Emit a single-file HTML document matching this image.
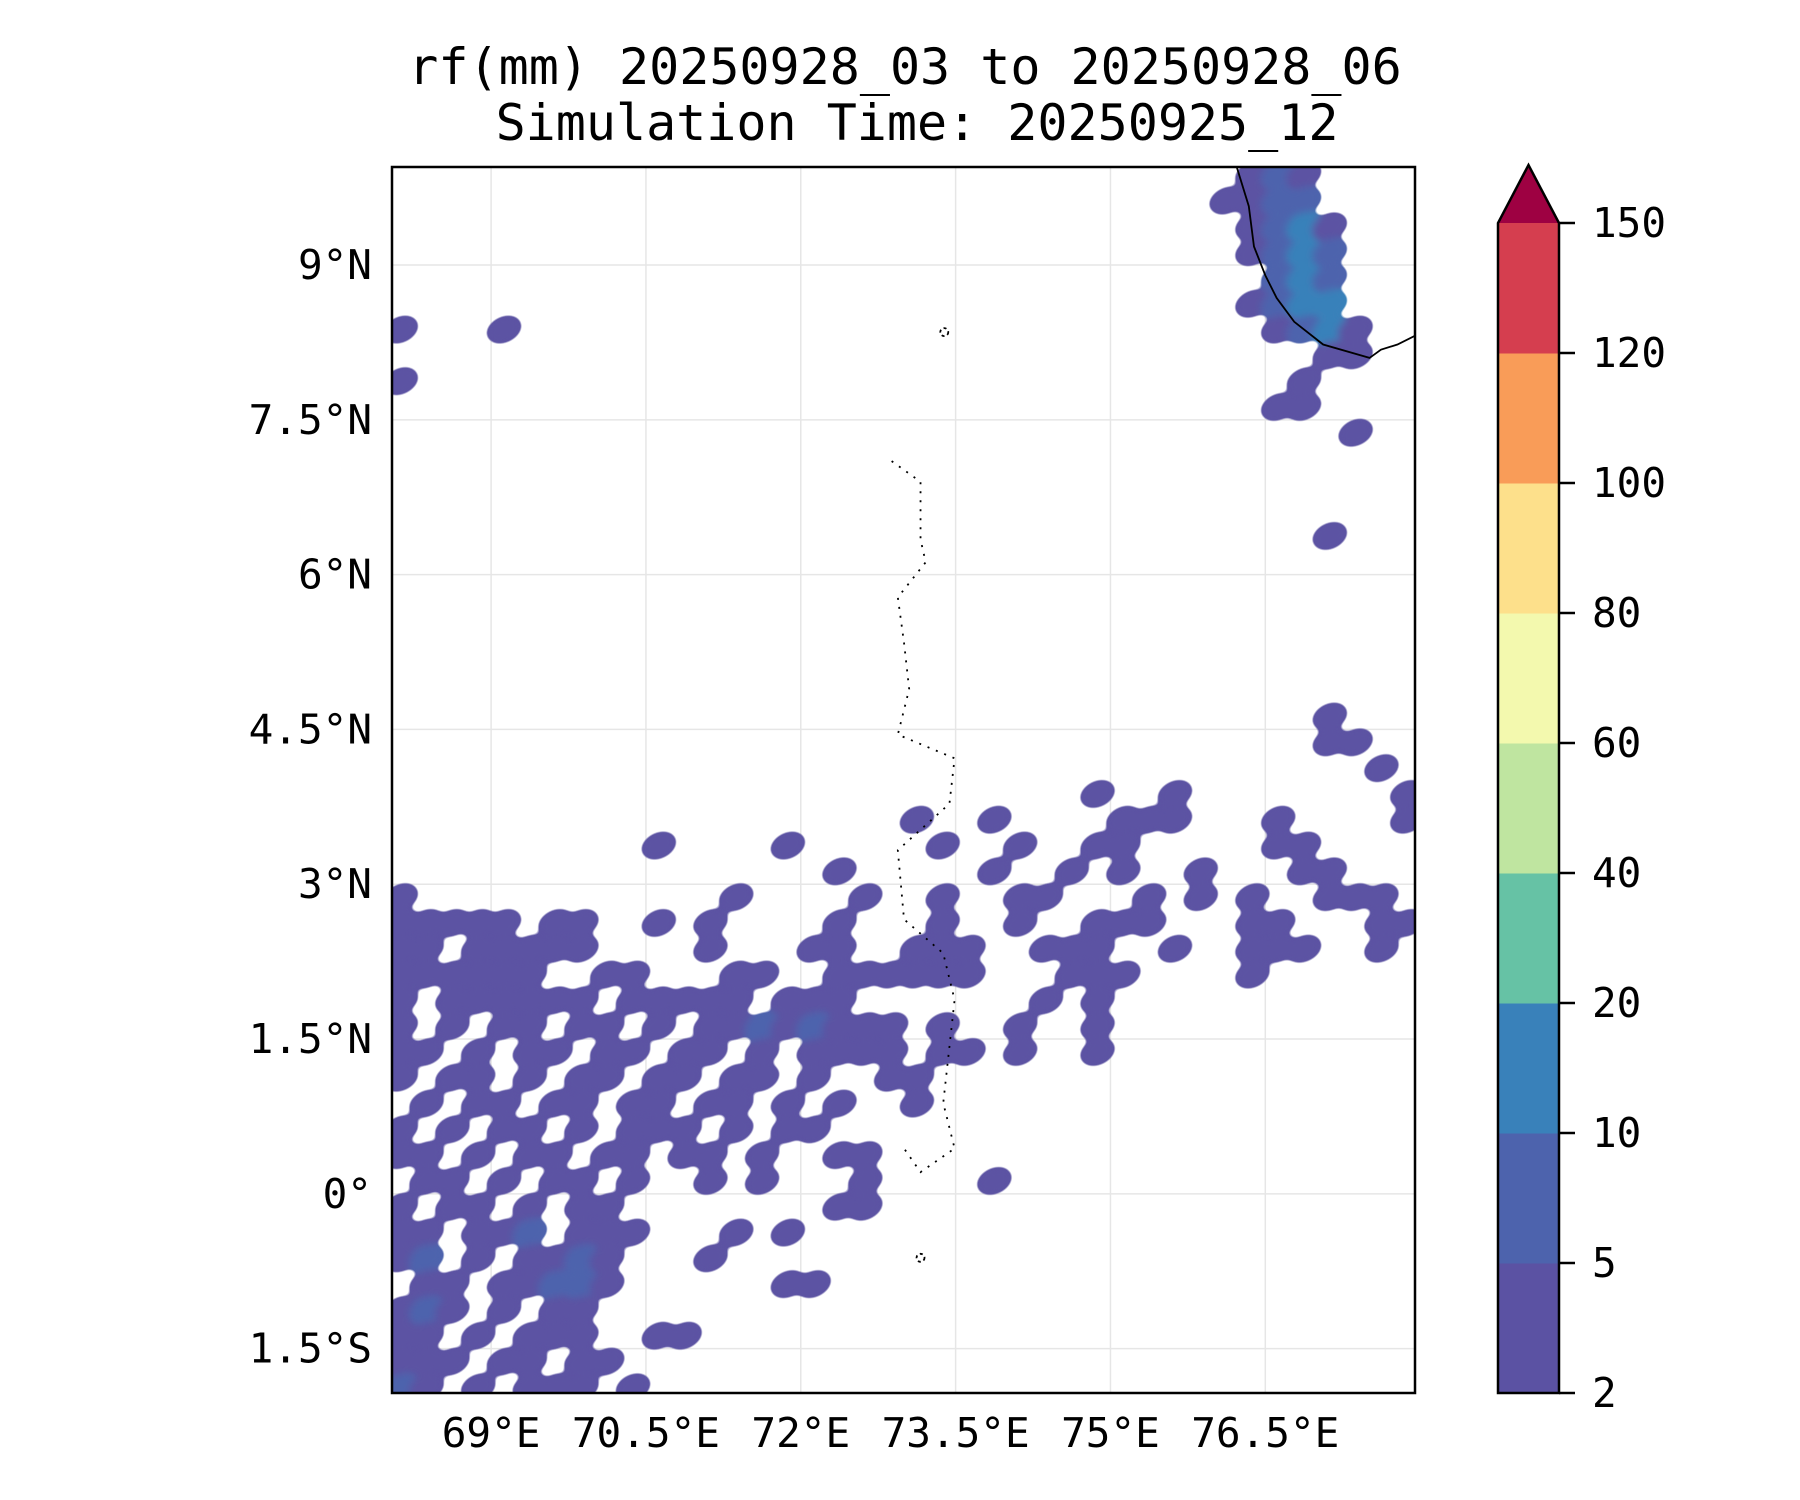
<!DOCTYPE html>
<html><head><meta charset="utf-8"><style>
html,body{margin:0;padding:0;background:#fff;}
svg{display:block;font-family:"DejaVu Sans Mono","Liberation Mono",monospace;}
</style></head><body>
<svg id="chart" width="1800" height="1500" viewBox="0 0 1800 1500" xmlns="http://www.w3.org/2000/svg">
<defs>
<clipPath id="plotclip"><rect x="392" y="167" width="1023" height="1226"/></clipPath>
<filter id="blobby" x="0" y="0" width="100%" height="100%">
<feGaussianBlur stdDeviation="4"/>
<feComponentTransfer><feFuncA type="linear" slope="6" intercept="-2.4"/></feComponentTransfer>
</filter>
</defs>
<rect width="1800" height="1500" fill="#fff"/>
<text x="905" y="84" font-size="50" text-anchor="middle">rf(mm) 20250928_03 to 20250928_06</text>
<text x="917" y="140" font-size="50" text-anchor="middle">Simulation Time: 20250925_12</text>
<g id="grid"></g>
<g id="rain" clip-path="url(#plotclip)" filter="url(#blobby)"></g>
<g id="coast" clip-path="url(#plotclip)"></g>
<rect x="392" y="167" width="1023" height="1226" fill="none" stroke="#000" stroke-width="2.5"/>
<g id="xticks"></g>
<g id="yticks"></g>
<g id="cbar"></g>
</svg>
<script>
const lonTicks=[69,70.5,72,73.5,75,76.5];
const lonTickLabels=["69°E","70.5°E","72°E","73.5°E","75°E","76.5°E"];
const latTicks=[9,7.5,6,4.5,3,1.5,0,-1.5];
const latTickLabels=["9°N","7.5°N","6°N","4.5°N","3°N","1.5°N","0°","1.5°S"];
const cbarBounds=[2,5,10,20,40,60,80,100,120,150];
const cbarColors=["#5b52a3","#4d63ad","#3981ba","#66c2a5","#bfe5a0","#f3f9ae","#fde08b","#f99c58","#d53e4f"];
const cbarExtendColor="#9e0142";
const levelColors=["none","#5b52a3","#4d63ad","#3981ba"];
const gridLon0=68.0, gridLat0=10.0, gridStep=0.25;
const rainRows=[
"000000000000000000000000000000000121",
"000000000000000000000000000000001122",
"0000000000000000000000000000000001231",
"0000000000000000000000000000000001232",
"0000000000000000000000000000000000232",
"0000000000000000000000000000000001233",
"1000100000000000000000000000000000123100",
"00000000000000000000000000000000000011",
"100000000000000000000000000000000001",
"000000000000000000000000000000000011",
"00000000000000000000000000000000000001",
"","","",
"0000000000000000000000000000000000001",
"","","","","","",
"0000000000000000000000000000000000001",
"00000000000000000000000000000000000011",
"000000000000000000000000000000000000001",
"0000000000000000000000000001001000000001",
"0000000000000000000010010000111000100001",
"0000000000100001000001001001100000110000",
"0000000000000000010000010010100100011000",
"1000000000000100001001001100010101001110",
"1111101100101000010001001001110001100011",
"1101111100001000110011100111001001110010",
"1111110011000110011111100011100001000000",
"1011111101111101110000000101",
"101011011010112121110100100100",
"110101101101101011110110100100",
"101101011011011010011",
"010110110110110101001",
"10101101011101011",
"1101011011011010011",
"011010110100101000100001",
"1011010110000000011",
"1101120111000101",
"1201011210001",
"01101122100000011",
"1210101100",
"110101110011",
"1110110110",
"2101011101"
];
const coastLon=[76.22,76.34,76.39,76.50,76.61,76.78,77.06,77.51,77.62,77.78,77.96];
const coastLat=[9.96,9.57,9.18,8.90,8.68,8.45,8.23,8.10,8.18,8.23,8.32];
const islandLon=[72.88,73.16,73.16,73.21,72.94,73.0,73.05,72.94,73.49,73.44,72.94,73.0,73.38,73.49,73.38,73.49,73.16,73.0];
const islandLat=[7.10,6.90,6.34,6.12,5.78,5.34,4.89,4.45,4.22,3.78,3.33,2.66,2.33,1.88,0.88,0.44,0.21,0.44];
const atollLon=[73.16,73.39];
const atollLat=[-0.62,8.35];

const NS="http://www.w3.org/2000/svg";
const lonMin=68.04, lonMax=77.95, latMin=-1.93, latMax=9.95;
const px0=392, px1=1415, py0=167, py1=1393;
function xS(lon){return px0+(lon-lonMin)/(lonMax-lonMin)*(px1-px0);}
function yS(lat){return py0+(latMax-lat)/(latMax-latMin)*(py1-py0);}
const cb={x:1498,w:61,top:223,bot:1393,tip:165};
function cS(i){return cb.bot-(i/(cbarBounds.length-1))*(cb.bot-cb.top);}
function mk(tag,attrs,parent){const e=document.createElementNS(NS,tag);for(const k in attrs)e.setAttribute(k,attrs[k]);parent.appendChild(e);return e;}

const grid=document.getElementById('grid');
lonTicks.forEach(v=>{const l=mk('line',{x1:xS(v),x2:xS(v),y1:py0,y2:py1,stroke:'#e6e6e6','stroke-width':1.5},grid);

});
latTicks.forEach(v=>{const l=mk('line',{x1:px0,x2:px1,y1:yS(v),y2:yS(v),stroke:'#e6e6e6','stroke-width':1.5},grid);

});

const rain=document.getElementById('rain');
rainRows.forEach((row,r)=>{
  for(let c=0;c<row.length;c++){
    const v=+row[c]; if(!v) continue;
    const lonA=gridLon0+c*gridStep, latA=gridLat0-r*gridStep;
    const x=xS(lonA), y=yS(latA), w=xS(lonA+gridStep)-x, h=yS(latA-gridStep)-y;
    const cx=x+w/2, cy=y+h/2;
    const e=mk('ellipse',{cx:cx,cy:cy,rx:w*0.72,ry:h*0.5,fill:levelColors[v],transform:`rotate(-25 ${cx} ${cy})`},rain);
    
    
  }
});

const coast=document.getElementById('coast');
const cl=mk('polyline',{points:coastLon.map((v,i)=>xS(v)+','+yS(coastLat[i])).join(' '),fill:'none',stroke:'#000','stroke-width':1.8},coast);


const il=mk('polyline',{points:islandLon.map((v,i)=>xS(v)+','+yS(islandLat[i])).join(' '),fill:'none',stroke:'#000','stroke-width':1.8,'stroke-dasharray':'2 7'},coast);


atollLon.forEach((v,i)=>{const a=mk('circle',{cx:xS(v),cy:yS(atollLat[i]),r:4,fill:'none',stroke:'#000','stroke-width':1.8,'stroke-dasharray':'3 3'},coast);

});

const xt=document.getElementById('xticks');
lonTicks.forEach((v,i)=>{const t=mk('text',{x:xS(v),y:1447,'font-size':41,'text-anchor':'middle'},xt);t.textContent=lonTickLabels[i];

});
const yt=document.getElementById('yticks');
latTicks.forEach((v,i)=>{const t=mk('text',{x:372,y:yS(v)+14,'font-size':41,'text-anchor':'end'},yt);t.textContent=latTickLabels[i];

});

const cbar=document.getElementById('cbar');
cbarColors.forEach((col,i)=>{const y1=cS(i+1),y0=cS(i);
const r=mk('rect',{x:cb.x,y:y1,width:cb.w,height:y0-y1+0.5,fill:col},cbar);

});
const tri=mk('polygon',{points:`${cb.x},${cb.top} ${cb.x+cb.w/2},${cb.tip} ${cb.x+cb.w},${cb.top}`,fill:cbarExtendColor},cbar);


const ol=mk('path',{d:`M${cb.x},${cb.bot} L${cb.x},${cb.top} L${cb.x+cb.w/2},${cb.tip} L${cb.x+cb.w},${cb.top} L${cb.x+cb.w},${cb.bot} Z`,fill:'none',stroke:'#000','stroke-width':2.5},cbar);


cbarBounds.forEach((v,i)=>{const y=cS(i);
const tk=mk('line',{x1:cb.x+cb.w,x2:cb.x+cb.w+16,y1:y,y2:y,stroke:'#000','stroke-width':2.5},cbar);


const t=mk('text',{x:1592,y:y+14,'font-size':41},cbar);t.textContent=v;

});
</script>
</body></html>
